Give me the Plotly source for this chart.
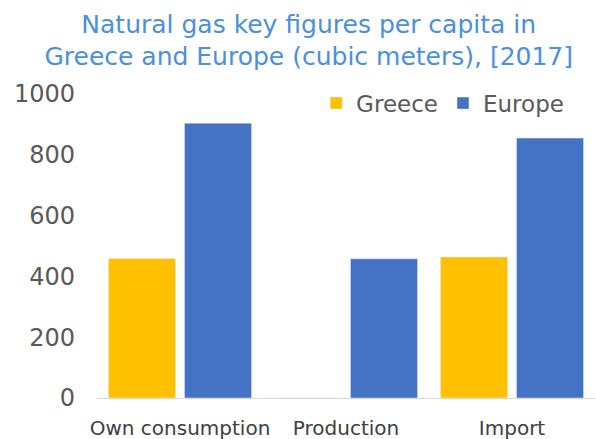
import plotly.graph_objects as go

categories = ["Own consumption", "Production", "Import"]
greece = [459, 0, 464]
europe = [904, 458, 855]

fig = go.Figure()
fig.add_trace(go.Bar(name="Greece", x=categories, y=greece, marker_color="#FFC000"))
fig.add_trace(go.Bar(name="Europe", x=categories, y=europe, marker_color="#4472C4"))

font = "DejaVu Sans, Verdana, sans-serif"
fig.update_layout(
    width=596, height=439,
    margin=dict(l=97, r=1, t=94, b=41, autoexpand=False),
    paper_bgcolor="white", plot_bgcolor="white",
    barmode="group", bargap=0.084, bargroupgap=0.118,
    title=dict(text="Natural gas key figures per capita in<br>Greece and Europe (cubic meters), [2017]",
               x=0.518, xanchor="center", yref="container", y=0.925, yanchor="top",
               font=dict(family=font, size=25, color="#4A8FE0")),
    legend=dict(orientation="h", x=0.44, y=0.97, xanchor="left", yanchor="middle",
                font=dict(family=font, size=23, color="#595959"),
                itemwidth=30, traceorder="normal", bgcolor="rgba(0,0,0,0)"),
    font=dict(family=font),
    showlegend=True,
)
fig.update_yaxes(range=[0, 1000], dtick=200, showgrid=False, zeroline=False,
                 tickfont=dict(family=font, size=24, color="#595959"), ticks="", ticklabelstandoff=21)
fig.update_xaxes(showline=True, linecolor="#D9D9D9", linewidth=1,
                 tickfont=dict(family=font, size=20, color="#404040"), ticks="", ticklabelstandoff=12)
fig.write_html("out.html", config={"displayModeBar": False},
               post_script="document.body.style.margin='0';")
